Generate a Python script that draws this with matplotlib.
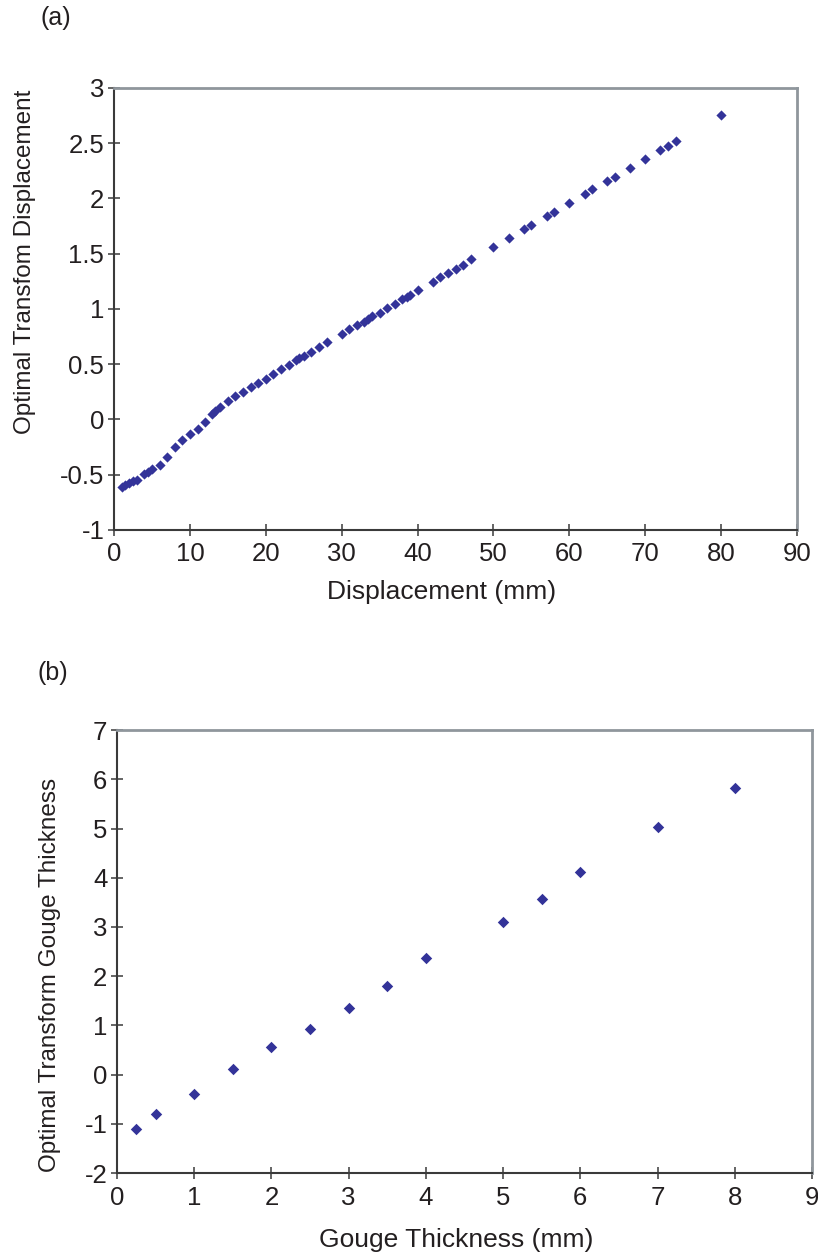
import matplotlib
matplotlib.use('Agg')
import matplotlib.pyplot as plt

# displacement data: raw value (mm) vs optimal transform
disp_mm = [1.0, 1.5, 2.0, 2.5, 3.0, 4.0, 4.5, 5.0, 6.0, 7.0, 8.0, 9.0, 10.0,
           11.0, 12.0, 12.9, 13.3, 14.0, 15.0, 16.0, 17.0, 18.0, 19.0, 20.0,
           21.0, 22.0, 23.0, 24.0, 24.4, 25.0, 26.0, 27.0, 28.0, 30.0, 31.0,
           32.0, 32.9, 33.4, 34.0, 35.0, 36.0, 37.0, 38.0, 38.6, 39.0, 40.0,
           42.0, 43.0, 44.0, 45.0, 46.0, 47.0, 50.0, 52.0, 54.0, 55.0, 57.0,
           58.0, 60.0, 62.0, 63.0, 65.0, 66.0, 68.0, 70.0, 72.0, 73.0, 74.0,
           80.0]
disp_opt = [-0.608, -0.593, -0.577, -0.56, -0.548, -0.496, -0.475, -0.451,
            -0.412, -0.337, -0.252, -0.186, -0.131, -0.083, -0.02, 0.047, 0.08,
            0.113, 0.165, 0.213, 0.252, 0.291, 0.333, 0.369, 0.412, 0.454,
            0.493, 0.538, 0.554, 0.572, 0.611, 0.653, 0.697, 0.777, 0.817,
            0.858, 0.885, 0.907, 0.932, 0.967, 1.013, 1.048, 1.088, 1.106,
            1.13, 1.169, 1.247, 1.287, 1.326, 1.365, 1.40, 1.45, 1.564, 1.643,
            1.721, 1.760, 1.842, 1.881, 1.962, 2.038, 2.083, 2.158, 2.198,
            2.279, 2.357, 2.436, 2.478, 2.520, 2.756]

# gouge thickness data
gouge_mm = [0.25, 0.5, 1.0, 1.5, 2.0, 2.5, 3.0, 3.5, 4.0, 5.0, 5.5, 6.0, 7.0, 8.0]
gouge_opt = [-1.10, -0.81, -0.40, 0.12, 0.56, 0.93, 1.35, 1.80, 2.36, 3.10,
             3.56, 4.12, 5.03, 5.83]

plt.rcParams['font.family'] = ['Liberation Sans', 'DejaVu Sans']
plt.rcParams['axes.unicode_minus'] = False
mcol = '#333399'
tcol = '#231f20'

fig = plt.figure(figsize=(8.18, 12.57), dpi=100)


def style_axes(ax):
    for s in ['left', 'bottom']:
        ax.spines[s].set_color('#3a3a3a')
        ax.spines[s].set_linewidth(1.5)
    for s in ['top', 'right']:
        ax.spines[s].set_color('#8f969c')
        ax.spines[s].set_linewidth(2.0)
    ax.tick_params(direction='inout', length=8, width=1.1, color='#3a3a3a',
                   labelsize=18.5, labelcolor=tcol)
    ax.tick_params(axis='x', pad=5)
    ax.tick_params(axis='y', pad=3)


ax1 = fig.add_axes([0.1394, 0.5784, 0.835, 0.3516])
ax1.scatter(disp_mm, disp_opt, marker='D', s=27, color=mcol, linewidths=0)
ax1.set_xlim(0, 90)
ax1.set_ylim(-1, 3)
ax1.set_xticks(range(0, 91, 10))
ax1.set_yticks([-1, -0.5, 0, 0.5, 1, 1.5, 2, 2.5, 3])
ax1.set_yticklabels(['-1', '-0.5', '0', '0.5', '1', '1.5', '2', '2.5', '3'])
style_axes(ax1)

ax2 = fig.add_axes([0.143, 0.0668, 0.8496, 0.3524])
ax2.scatter(gouge_mm, gouge_opt, marker='D', s=34, color=mcol, linewidths=0)
ax2.set_xlim(0, 9)
ax2.set_ylim(-2, 7)
ax2.set_xticks(range(0, 10))
ax2.set_yticks(range(-2, 8))
style_axes(ax2)

# axis titles and panel letters
fig.text(442 / 818, 1 - 592 / 1257, 'Displacement (mm)', ha='center',
         va='center', fontsize=19, color=tcol)
fig.text(25 / 818, 1 - 262 / 1257, 'Optimal Transfom Displacement',
         rotation=90, ha='center', va='center', fontsize=17.5, color=tcol)
fig.text(456 / 818, 1 - 1240 / 1257, 'Gouge Thickness (mm)', ha='center',
         va='center', fontsize=19, color=tcol)
fig.text(50 / 818, 1 - 975 / 1257, 'Optimal Transform Gouge Thickness',
         rotation=90, ha='center', va='center', fontsize=17.5, color=tcol)
fig.text(56 / 818, 1 - 18 / 1257, '(a)', ha='center', va='center',
         fontsize=18, color=tcol)
fig.text(53 / 818, 1 - 673 / 1257, '(b)', ha='center', va='center',
         fontsize=18, color=tcol)

fig.savefig('out.png', dpi=100)
